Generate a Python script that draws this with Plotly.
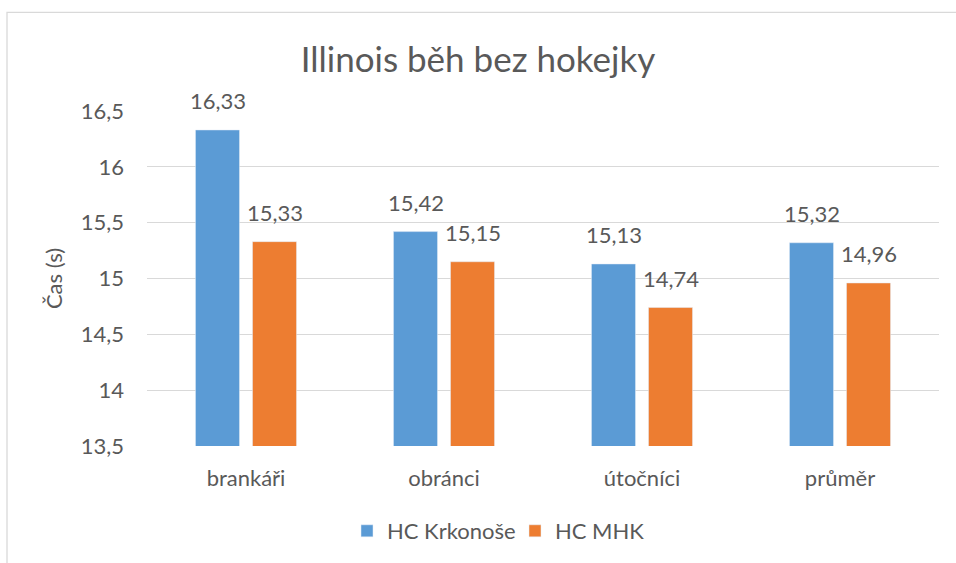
import plotly.graph_objects as go

categories = ["brankáři", "obránci", "útočníci", "průměr"]
krkonose = [16.33, 15.42, 15.13, 15.32]
mhk = [15.33, 15.15, 14.74, 14.96]
series_names = ["HC Krkonoše", "HC MHK"]
y_ticks = [13.5, 14, 14.5, 15, 15.5, 16, 16.5]
y_tick_labels = ["13,5", "14", "14,5", "15", "15,5", "16", "16,5"]

def fmt(v):
    return f"{v:.2f}".replace(".", ",")

FONT = "Lato, Carlito, Calibri, sans-serif"
GRAY = "#595959"
FS = 22

fig = go.Figure()
fig.add_trace(go.Bar(x=categories, y=krkonose, name=series_names[0],
                     marker_color="#5B9BD5"))
fig.add_trace(go.Bar(x=categories, y=mhk, name=series_names[1],
                     marker_color="#ED7D31"))

annotations = []
for vals, shift in ((krkonose, -28.5), (mhk, 28.5)):
    for c, v in zip(categories, vals):
        annotations.append(dict(x=c, y=v, xref="x", yref="y", text=fmt(v),
                                showarrow=False, xshift=shift, yanchor="bottom",
                                yshift=14, font=dict(size=FS, color=GRAY, family=FONT)))

W, H = 956, 563
L, R, T, B = 147, 17, 111, 116
pw, ph = W - L - R, H - T - B

def px_x(p):
    return (p - L) / pw

def px_y(p):
    return (H - B - p) / ph

fig.update_layout(
    width=W, height=H,
    margin=dict(l=L, r=R, t=T, b=B),
    paper_bgcolor="white", plot_bgcolor="white",
    font=dict(family=FONT, color=GRAY, size=FS),
    barmode="group", bargap=0.424, bargroupgap=0.228,
    title=dict(text="Illinois běh bez hokejky", x=0.5, xanchor="center",
               y=1 - 60 / H, yanchor="middle",
               font=dict(size=35, color=GRAY, family=FONT)),
    xaxis=dict(showgrid=False, showline=False, ticks="", ticklabelstandoff=17,
               tickfont=dict(size=FS, color=GRAY)),
    yaxis=dict(range=[13.5, 16.5], tickvals=y_ticks, ticktext=y_tick_labels,
               showgrid=True, gridcolor="#D9D9D9", gridwidth=1.3, zeroline=False,
               showline=False, ticks="", ticklabelstandoff=22,
               tickfont=dict(size=FS, color=GRAY),
               title=dict(text="Čas (s)", font=dict(size=FS, color=GRAY), standoff=12)),
    legend=dict(orientation="h", x=px_x(347), xanchor="left", y=px_y(531), yanchor="middle",
                font=dict(size=FS, color=GRAY), itemwidth=30,
                entrywidth=123, entrywidthmode="pixels"),
    showlegend=True,
    annotations=annotations,
    shapes=[dict(type="rect", xref="paper", yref="paper",
                 x0=px_x(7), x1=px_x(962), y0=px_y(570), y1=px_y(12),
                 line=dict(color="#D9D9D9", width=1.3), fillcolor="rgba(0,0,0,0)",
                 layer="below")],
)

fig.write_html("out.html", config={"displayModeBar": False},
               post_script="document.body.style.margin='0';")
